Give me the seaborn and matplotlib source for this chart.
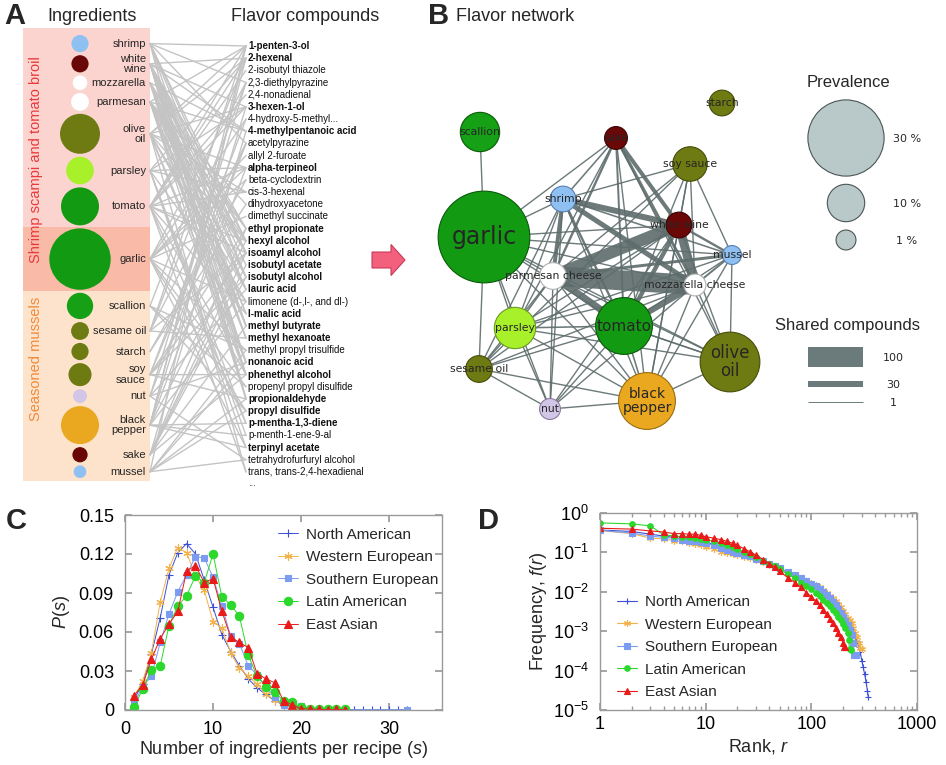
import numpy as np
import matplotlib
matplotlib.use("Agg")
import matplotlib.pyplot as plt
import seaborn as sns
from matplotlib.patches import Circle, Rectangle, FancyArrow
from matplotlib.ticker import FixedLocator, FuncFormatter, LogLocator

# ---------------- data: panel A / B ----------------
ingredient_keys = ["shrimp", "white wine", "mozzarella", "parmesan", "olive oil", "parsley",
                   "tomato", "garlic", "scallion", "sesame oil", "starch", "soy sauce",
                   "nut", "black pepper", "sake", "mussel"]
ingredient_labels = ["shrimp", "white\nwine", "mozzarella", "parmesan", "olive\noil", "parsley",
                     "tomato", "garlic", "scallion", "sesame oil", "starch", "soy\nsauce",
                     "nut", "black\npepper", "sake", "mussel"]
# recipe membership: 0 = shrimp scampi, 1 = both, 2 = seasoned mussels
recipe_group = [0, 0, 0, 0, 0, 0, 0, 1, 2, 2, 2, 2, 2, 2, 2, 2]
prevalence = [4.0, 4.0, 2.0, 4.5, 21.5, 12.0, 20.0, 38.0, 11.0, 4.5, 4.0, 8.5, 1.5, 20.0, 2.5, 0.5]
ingredient_colors = ["#8ec0f2", "#6a0808", "#ffffff", "#ffffff", "#6e7a12", "#a8f02a",
                     "#129a12", "#129a12", "#16a016", "#6e7a12", "#6e7a12", "#6e7a12",
                     "#d2c6e6", "#eaa820", "#6a0808", "#8ec0f2"]

compounds = ["1-penten-3-ol", "2-hexenal", "2-isobutyl thiazole", "2,3-diethylpyrazine",
             "2,4-nonadienal", "3-hexen-1-ol", "4-hydroxy-5-methyl...", "4-methylpentanoic acid",
             "acetylpyrazine", "allyl 2-furoate", "alpha-terpineol", "beta-cyclodextrin",
             "cis-3-hexenal", "dihydroxyacetone", "dimethyl succinate", "ethyl propionate",
             "hexyl alcohol", "isoamyl alcohol", "isobutyl acetate", "isobutyl alcohol",
             "lauric acid", "limonene (d-,l-, and dl-)", "l-malic acid", "methyl butyrate",
             "methyl hexanoate", "methyl propyl trisulfide", "nonanoic acid", "phenethyl alcohol",
             "propenyl propyl disulfide", "propionaldehyde", "propyl disulfide",
             "p-mentha-1,3-diene", "p-menth-1-ene-9-al", "terpinyl acetate",
             "tetrahydrofurfuryl alcohol", "trans, trans-2,4-hexadienal"]
compound_shared = [1, 1, 0, 0, 0, 1, 0, 1, 0, 0, 1, 0, 0, 0, 0, 1, 1, 1, 1, 1, 1, 0, 1, 1, 1,
                   0, 1, 1, 0, 1, 1, 1, 0, 1, 0, 0]

ingredient_compounds = {
    "shrimp": [0, 8, 3, 17, 19, 29, 23, 16],
    "white wine": [1, 5, 7, 15, 16, 17, 18, 19, 20, 22, 23, 24, 26, 27, 29],
    "mozzarella": [7, 15, 17, 20, 23, 24, 26, 29, 22],
    "parmesan": [0, 7, 13, 15, 16, 17, 19, 20, 23, 24, 26, 27, 29],
    "olive oil": [0, 1, 5, 10, 12, 16, 20, 21, 26, 27, 35],
    "parsley": [1, 5, 10, 12, 21, 31, 32, 33],
    "tomato": [0, 1, 2, 4, 5, 10, 12, 16, 17, 22, 27, 31, 35],
    "garlic": [3, 6, 9, 10, 11, 14, 21, 25, 28, 30, 33],
    "scallion": [25, 28, 30, 1],
    "sesame oil": [3, 8, 17, 24, 0],
    "starch": [11, 13],
    "soy sauce": [6, 8, 15, 17, 19, 27, 29],
    "nut": [3, 8, 20, 26, 34],
    "black pepper": [0, 1, 5, 10, 16, 21, 31, 32, 33],
    "sake": [15, 17, 18, 19, 23, 27, 7],
    "mussel": [0, 25, 26, 29, 30, 34],
}

# flavor network layout (pixel space of the figure)
node_x = [563, 679, 695, 553, 730, 515, 624, 484, 480, 479, 722, 690, 550, 647, 616, 732]
node_y = [199, 225, 285, 276, 362, 328, 326, 237, 132, 369, 103, 164, 409, 401, 138, 255]
node_labels = ["shrimp", "white wine", "mozzarella cheese", "parmesan cheese", "olive\noil",
               "parsley", "tomato", "garlic", "scallion", "sesame oil", "starch", "soy sauce",
               "nut", "black\npepper", "sake", "mussel"]
node_edge_colors = ["#5a80b0", "#400000", "#b0b0b0", "#b0b0b0", "#454d08", "#6a9a20",
                    "#0b5a0b", "#0b5a0b", "#0b5a0b", "#454d08", "#454d08", "#454d08",
                    "#8c7ca0", "#9a6e10", "#400000", "#5a80b0"]

edge_src = ["parmesan", "parmesan", "mozzarella", "shrimp", "shrimp", "shrimp", "parmesan",
            "tomato", "tomato", "sake", "sake", "sake", "sake", "sake", "mussel", "mussel",
            "mussel", "mussel", "mussel", "garlic", "garlic", "garlic", "garlic", "garlic",
            "garlic", "garlic", "garlic", "garlic", "garlic", "garlic", "garlic",
            "soy sauce", "soy sauce", "soy sauce", "soy sauce", "soy sauce", "soy sauce",
            "soy sauce", "parsley", "parsley", "parsley", "parsley", "parsley", "parsley",
            "parsley", "parsley", "parsley", "parsley", "parsley", "tomato", "tomato",
            "tomato", "tomato", "tomato", "black pepper", "black pepper", "black pepper",
            "black pepper", "black pepper", "black pepper", "black pepper", "black pepper",
            "black pepper", "olive oil", "olive oil", "olive oil", "olive oil", "olive oil",
            "nut", "nut", "nut", "nut", "nut", "sesame oil", "sesame oil", "sesame oil",
            "sesame oil", "soy sauce", "olive oil", "garlic"]
edge_dst = ["mozzarella", "white wine", "white wine", "white wine", "mozzarella", "parmesan",
            "tomato", "mozzarella", "white wine", "white wine", "mozzarella", "parmesan",
            "tomato", "shrimp", "parmesan", "white wine", "mozzarella", "shrimp", "tomato",
            "parmesan", "mozzarella", "white wine", "shrimp", "sake", "tomato", "mussel",
            "parsley", "sesame oil", "scallion", "nut", "black pepper",
            "shrimp", "white wine", "mozzarella", "parmesan", "tomato", "black pepper",
            "sesame oil", "parmesan", "mozzarella", "white wine", "tomato", "shrimp", "sake",
            "black pepper", "nut", "sesame oil", "mussel", "olive oil", "black pepper",
            "olive oil", "nut", "sesame oil", "shrimp", "parmesan", "mozzarella",
            "white wine", "shrimp", "sake", "nut", "sesame oil", "mussel", "olive oil",
            "mussel", "mozzarella", "white wine", "parmesan", "sake", "parmesan",
            "mozzarella", "white wine", "shrimp", "sesame oil", "parmesan", "shrimp",
            "mozzarella", "white wine", "mussel", "tomato", "olive oil"]
edge_shared = [100, 60, 45, 30, 25, 20, 35, 30, 22, 20, 15, 12, 10, 8, 15, 12, 10, 8, 6,
               6, 5, 5, 4, 3, 4, 3, 4, 2, 1, 2, 3,
               2, 3, 3, 3, 3, 2, 2, 8, 7, 6, 8, 5, 4, 5, 3, 3, 3, 3, 8, 4, 3, 4, 12,
               5, 5, 5, 4, 4, 2, 3, 3, 2, 2, 3, 3, 3, 2, 3, 2, 2, 2, 1, 3, 2, 2, 2, 2, 3, 2]

legend_prevalence = [30, 10, 1]
legend_shared = [100, 30, 1]

# ---------------- data: panel C ----------------
cuisines = ["North American", "Western European", "Southern European", "Latin American", "East Asian"]
ps_north_american = [0.008, 0.020, 0.043, 0.071, 0.104, 0.121, 0.128, 0.120, 0.100, 0.079,
                     0.058, 0.045, 0.034, 0.024, 0.017, 0.012, 0.007, 0.004, 0.003, 0.0015,
                     0.001, 0.0007, 0.0005, 0.0004, 0.0003, 0.0003, 0.0002, 0.0002, 0.0002,
                     0.0001, 0.0001, 0.0001]
ps_western_european = [0.010, 0.022, 0.044, 0.083, 0.109, 0.125, 0.121, 0.103, 0.092, 0.068,
                       0.063, 0.044, 0.032, 0.026, 0.020, 0.012, 0.008, 0.005, 0.003, 0.002,
                       0.001, 0.0005]
ps_southern_european = [0.005, 0.018, 0.026, 0.052, 0.074, 0.091, 0.104, 0.118, 0.117, 0.102,
                        0.080, 0.057, 0.051, 0.034, 0.027, 0.018, 0.010, 0.004, 0.004, 0.003,
                        0.001, 0.0008, 0.0005, 0.0003, 0.0002, 0.0002]
ps_latin_american = [0.002, 0.016, 0.031, 0.034, 0.065, 0.080, 0.088, 0.103, 0.098, 0.120,
                     0.087, 0.081, 0.072, 0.042, 0.026, 0.018, 0.014, 0.007, 0.006, 0.002,
                     0.001, 0.001, 0.001, 0.0008, 0.0005]
ps_east_asian = [0.011, 0.019, 0.039, 0.055, 0.066, 0.076, 0.107, 0.111, 0.098, 0.101, 0.076,
                 0.056, 0.052, 0.048, 0.028, 0.024, 0.021, 0.007, 0.004, 0.001, 0.0007,
                 0.0005, 0.0003, 0.0004, 0.0003]
se_sizes = list(range(1, 26)) + [32]

# ---------------- data: panel D ----------------
na_rank = [1, 2, 3, 4, 5, 6, 7, 8, 9, 10, 12, 14, 16, 18, 20, 23, 26, 30, 35, 40, 45, 50, 60, 70,
           80, 90, 100, 110, 120, 130, 140, 150, 160, 170, 180, 190, 200, 210, 220, 230, 240,
           250, 260, 270, 280, 290, 300, 310, 320, 330, 340, 345]
na_freq = [0.37, 0.34, 0.29, 0.26, 0.24, 0.22, 0.21, 0.20, 0.19, 0.18, 0.16, 0.14, 0.125, 0.112,
           0.10, 0.09, 0.08, 0.07, 0.058, 0.05, 0.044, 0.038, 0.030, 0.025, 0.021, 0.018, 0.016,
           0.014, 0.012, 0.010, 0.0085, 0.0070, 0.0058, 0.0047, 0.0038, 0.0031, 0.0025, 0.0021,
           0.0017, 0.0014, 0.0011, 0.0009, 0.0007, 0.00055, 0.0004, 0.0003, 0.00018, 0.00012,
           0.00008, 0.00005, 0.00003, 0.000022]
we_rank = [1, 2, 3, 4, 5, 6, 7, 8, 9, 10, 12, 14, 16, 18, 20, 23, 26, 30, 35, 40, 45, 50, 60, 70,
           80, 90, 100, 110, 120, 130, 140, 150, 160, 170, 180, 190, 200, 210, 220, 230, 240,
           250, 260, 270, 280, 290, 300]
we_freq = [0.36, 0.30, 0.23, 0.22, 0.20, 0.19, 0.17, 0.16, 0.15, 0.14, 0.12, 0.105, 0.097, 0.09,
           0.085, 0.078, 0.072, 0.065, 0.056, 0.048, 0.042, 0.037, 0.030, 0.025, 0.021, 0.019,
           0.017, 0.015, 0.013, 0.011, 0.0095, 0.0080, 0.0068, 0.0058, 0.0049, 0.0040, 0.0033,
           0.0027, 0.0022, 0.0019, 0.0016, 0.0012, 0.0009, 0.0007, 0.0005, 0.00038, 0.00036]
se_rank = [1, 2, 3, 4, 5, 6, 7, 8, 9, 10, 12, 14, 16, 18, 20, 23, 26, 30, 35, 40, 45, 50, 60, 70,
           80, 90, 100, 110, 120, 130, 140, 150, 160, 170, 180, 190, 200, 210, 220, 230, 240,
           250, 255, 262]
se_freq = [0.36, 0.31, 0.26, 0.24, 0.23, 0.21, 0.20, 0.19, 0.18, 0.17, 0.15, 0.13, 0.115, 0.105,
           0.097, 0.088, 0.08, 0.07, 0.06, 0.052, 0.045, 0.04, 0.032, 0.027, 0.022, 0.019, 0.016,
           0.014, 0.012, 0.010, 0.0082, 0.0068, 0.0055, 0.0045, 0.0036, 0.0029, 0.0023, 0.0018,
           0.0014, 0.0011, 0.0008, 0.0005, 0.00025, 0.00025]
la_rank = [1, 2, 3, 4, 5, 6, 7, 8, 9, 10, 12, 14, 16, 18, 20, 23, 26, 30, 35, 40, 45, 50, 60, 70,
           80, 90, 100, 110, 120, 130, 140, 150, 160, 170, 180, 190, 200, 210, 220, 225, 230, 235]
la_freq = [0.56, 0.53, 0.47, 0.28, 0.26, 0.25, 0.24, 0.23, 0.22, 0.21, 0.19, 0.17, 0.15, 0.135,
           0.12, 0.105, 0.09, 0.075, 0.062, 0.052, 0.044, 0.037, 0.028, 0.022, 0.017, 0.014,
           0.012, 0.0095, 0.0078, 0.0063, 0.0052, 0.0043, 0.0035, 0.0029, 0.0023, 0.0019,
           0.0015, 0.0012, 0.0009, 0.0006, 0.00035, 0.00033]
ea_rank = [1, 2, 3, 4, 5, 6, 7, 8, 9, 10, 12, 14, 16, 18, 20, 23, 26, 30, 35, 40, 45, 50, 60, 70,
           80, 90, 100, 110, 120, 130, 140, 150, 160, 170, 180, 190, 200, 205, 210]
ea_freq = [0.41, 0.39, 0.35, 0.33, 0.30, 0.30, 0.29, 0.29, 0.27, 0.25, 0.23, 0.21, 0.19, 0.17,
           0.15, 0.125, 0.105, 0.085, 0.066, 0.052, 0.042, 0.033, 0.023, 0.017, 0.013, 0.0095,
           0.0075, 0.0058, 0.0045, 0.0035, 0.0027, 0.0021, 0.0016, 0.0012, 0.0009, 0.0007,
           0.0005, 0.0004, 0.0004]

# ---------------- style ----------------
sns.set_theme(style="ticks")
plt.rcParams["font.family"] = ["Liberation Sans", "DejaVu Sans"]
plt.rcParams["mathtext.fontset"] = "custom"
plt.rcParams["mathtext.rm"] = "Liberation Sans"
plt.rcParams["mathtext.it"] = "Liberation Sans:italic"
plt.rcParams["mathtext.bf"] = "Liberation Sans:bold"

W, H = 946, 765
PX = 0.72  # points per pixel
fig = plt.figure(figsize=(W / 100, H / 100), dpi=100)

ax0 = fig.add_axes([0, 0, 1, 1])
ax0.set_xlim(0, W)
ax0.set_ylim(H, 0)
ax0.axis("off")

# headers
ax0.text(4, 16, "A", fontsize=21, fontweight="bold", va="center", ha="left")
ax0.text(92, 16, "Ingredients", fontsize=13, va="center", ha="center")
ax0.text(305, 16, "Flavor compounds", fontsize=13, va="center", ha="center")
ax0.text(428, 16, "B", fontsize=21, fontweight="bold", va="center", ha="left")
ax0.text(456, 16, "Flavor network", fontsize=13, va="center", ha="left")
ax0.text(6, 521, "C", fontsize=21, fontweight="bold", va="center", ha="left")
ax0.text(478, 521, "D", fontsize=21, fontweight="bold", va="center", ha="left")

# ---------------- panel A ----------------
prev = np.array(prevalence)
rA = 6.0 + 0.65 * prev
n = len(rA)
gap = (443 - 2 * rA.sum()) / (n - 1)
tops = 35 + np.concatenate([[0], np.cumsum(2 * rA[:-1] + gap)])
yA = tops + rA
xA = 80

group = np.array(recipe_group)
bounds = [28]
for i in range(n - 1):
    if group[i] != group[i + 1]:
        bounds.append((yA[i] + rA[i] + yA[i + 1] - rA[i + 1]) / 2)
bounds.append(481)
band_colors = ["#fcd4cf", "#f9bba8", "#fde3cc"]
for k in range(3):
    ax0.add_patch(Rectangle((23, bounds[k]), 127, bounds[k + 1] - bounds[k],
                            facecolor=band_colors[k], edgecolor="none", zorder=0))

ax0.text(36, (bounds[0] + bounds[2]) / 2, "Shrimp scampi and tomato broil", rotation=90,
         color="#e8383a", fontsize=10.5, ha="center", va="center")
ax0.text(36, bounds[2] + 5, "Seasoned mussels", rotation=90, color="#f08a3a",
         fontsize=10.5, ha="center", va="top")

for i, key in enumerate(ingredient_keys):
    ax0.add_patch(Circle((xA, yA[i]), rA[i], facecolor=ingredient_colors[i],
                         edgecolor="none", zorder=3))
    ax0.text(146, yA[i], ingredient_labels[i], fontsize=8, ha="right", va="center",
             linespacing=1.05, zorder=3)

yC = 46 + 12.17 * np.arange(len(compounds))
for i, key in enumerate(ingredient_keys):
    for j in ingredient_compounds[key]:
        ax0.plot([150, 246], [yA[i], yC[j]], color="#c4c4c4", lw=1.0, zorder=1)
for j, name in enumerate(compounds):
    ax0.text(248, yC[j], name, fontsize=7.0, va="center", ha="left",
             fontweight="bold" if compound_shared[j] else "normal", color="#111111")
ax0.text(248, yC[-1] + 11, "...", fontsize=7.0, va="center", ha="left", color="#333333")

# arrow
ax0.add_patch(FancyArrow(372, 260, 33, 0, width=16, head_width=31, head_length=14,
                         length_includes_head=True, facecolor="#f2607e",
                         edgecolor="#c83a58", lw=0.8, zorder=2))

# ---------------- panel B ----------------
idx = {k: i for i, k in enumerate(ingredient_keys)}
rB = 9 + 0.97 * prev


def edge_px(w):
    return max(1.4, 0.2 * w)


order = np.argsort(edge_shared)
for e in order:
    a, b = idx[edge_src[e]], idx[edge_dst[e]]
    ax0.plot([node_x[a], node_x[b]], [node_y[a], node_y[b]], color="#5e6c6c",
             lw=edge_px(edge_shared[e]) * PX, alpha=0.9, solid_capstyle="butt", zorder=4)

label_size = {"garlic": 17, "tomato": 11, "olive oil": 12, "black pepper": 10}
for i, key in enumerate(ingredient_keys):
    ax0.add_patch(Circle((node_x[i], node_y[i]), rB[i], facecolor=ingredient_colors[i],
                         edgecolor=node_edge_colors[i], lw=0.8, zorder=5))
for i, key in enumerate(ingredient_keys):
    ax0.text(node_x[i], node_y[i], node_labels[i], fontsize=label_size.get(key, 7.8),
             family="DejaVu Sans", ha="center", va="center", linespacing=1.0, zorder=6)

# network legends
ax0.text(848, 82, "Prevalence", fontsize=12, ha="center", va="center")
leg_y = [138, 203, 240]
for p, y in zip(legend_prevalence, leg_y):
    ax0.add_patch(Circle((846, y), 9 + 0.97 * p, facecolor="#b9c9c9",
                         edgecolor="#4a5656", lw=0.8, zorder=5))
    ax0.text(907, y + 1, f"{p} %", fontsize=8, family="DejaVu Sans", ha="center", va="center")

ax0.text(847, 325, "Shared compounds", fontsize=12, ha="center", va="center")
bar_y = [357, 384, 402]
for w, y in zip(legend_shared, bar_y):
    ax0.plot([808, 863], [y, y], color="#6b7a7a", lw=edge_px(w) * PX * (0.7 if w == 1 else 1),
             solid_capstyle="butt")
    ax0.text(893, y + 1, str(w), fontsize=8, family="DejaVu Sans", ha="center", va="center")

# ---------------- panels C, D ----------------
spine_col = "#9a9a9a"
series_style = [
    ("+", "#3a4fd6"),
    ((6, 2, 0), "#f2b24a"),
    ("s", "#7b9cf0"),
    ("o", "#2bd82b"),
    ("^", "#ea1a1a"),
]


def style_axes(ax, xpad, ypad):
    for s in ax.spines.values():
        s.set_color(spine_col)
        s.set_linewidth(1.0)
    ax.tick_params(which="both", direction="in", top=True, right=True, colors=spine_col,
                   labelcolor="black", labelsize=13)
    ax.tick_params(which="major", length=5)
    ax.tick_params(which="minor", length=3)
    ax.tick_params(axis="x", which="both", pad=xpad)
    ax.tick_params(axis="y", which="both", pad=ypad)


axC = fig.add_axes([125 / W, 1 - 710 / H, 317 / W, 195 / H])
c_series = [(list(range(1, len(ps_north_american) + 1)), ps_north_american),
            (list(range(1, len(ps_western_european) + 1)), ps_western_european),
            (se_sizes, ps_southern_european),
            (list(range(1, len(ps_latin_american) + 1)), ps_latin_american),
            (list(range(1, len(ps_east_asian) + 1)), ps_east_asian)]
c_ms = [6, 6, 5, 6, 6]
for (xs, ys), name, (mk, col), ms in zip(c_series, cuisines, series_style, c_ms):
    sns.lineplot(x=xs, y=ys, ax=axC, color=col, marker=mk, markersize=ms,
                 markeredgecolor=col, markeredgewidth=0.8, lw=0.7, label=name,
                 errorbar=None, sort=False)
axC.set_xlim(0, 36)
axC.set_ylim(0, 0.15)
axC.xaxis.set_major_locator(FixedLocator([0, 10, 20, 30]))
axC.yaxis.set_major_locator(FixedLocator([0, 0.03, 0.06, 0.09, 0.12, 0.15]))
axC.yaxis.set_major_formatter(FuncFormatter(lambda v, p: "0" if v == 0 else f"{v:.2f}"))
style_axes(axC, 8, 8)
axC.set_xlabel("Number of ingredients per recipe ($s$)", fontsize=13, labelpad=1)
axC.set_ylabel("$P$($s$)", fontsize=13, labelpad=5)
axC.legend(loc="upper left", bbox_to_anchor=(0.45, 0.99), frameon=False, fontsize=11,
           handlelength=1.3, handletextpad=0.5, labelspacing=0.56, borderpad=0.2)

axD = fig.add_axes([600 / W, 1 - 710 / H, 317 / W, 197 / H])
d_series = [(na_rank, na_freq), (we_rank, we_freq), (se_rank, se_freq),
            (la_rank, la_freq), (ea_rank, ea_freq)]
d_ms = [5, 5, 4, 4, 4]
for (xs, ys), name, (mk, col), dm in zip(d_series, cuisines, series_style, d_ms):
    sns.lineplot(x=xs, y=ys, ax=axD, color=col, marker=mk, markersize=dm,
                 markeredgecolor=col, markeredgewidth=0.8, lw=0.8, label=name,
                 errorbar=None, sort=False)
axD.set_xscale("log")
axD.set_yscale("log")
axD.set_xlim(1, 1000)
axD.set_ylim(1e-5, 1)
axD.yaxis.set_major_locator(LogLocator(base=10, numticks=12))
axD.xaxis.set_major_formatter(FuncFormatter(lambda v, p: f"{int(round(v))}"))
style_axes(axD, 4, 8)
axD.set_xlabel("Rank, $r$", fontsize=13, labelpad=3)
axD.set_ylabel("Frequency, $f$($r$)", fontsize=13, labelpad=3)
axD.legend(loc="lower left", bbox_to_anchor=(0.02, 0.0), frameon=False, fontsize=11,
           handlelength=1.3, handletextpad=0.5, labelspacing=0.56, borderpad=0.2)

fig.savefig("out.png", dpi=100)
